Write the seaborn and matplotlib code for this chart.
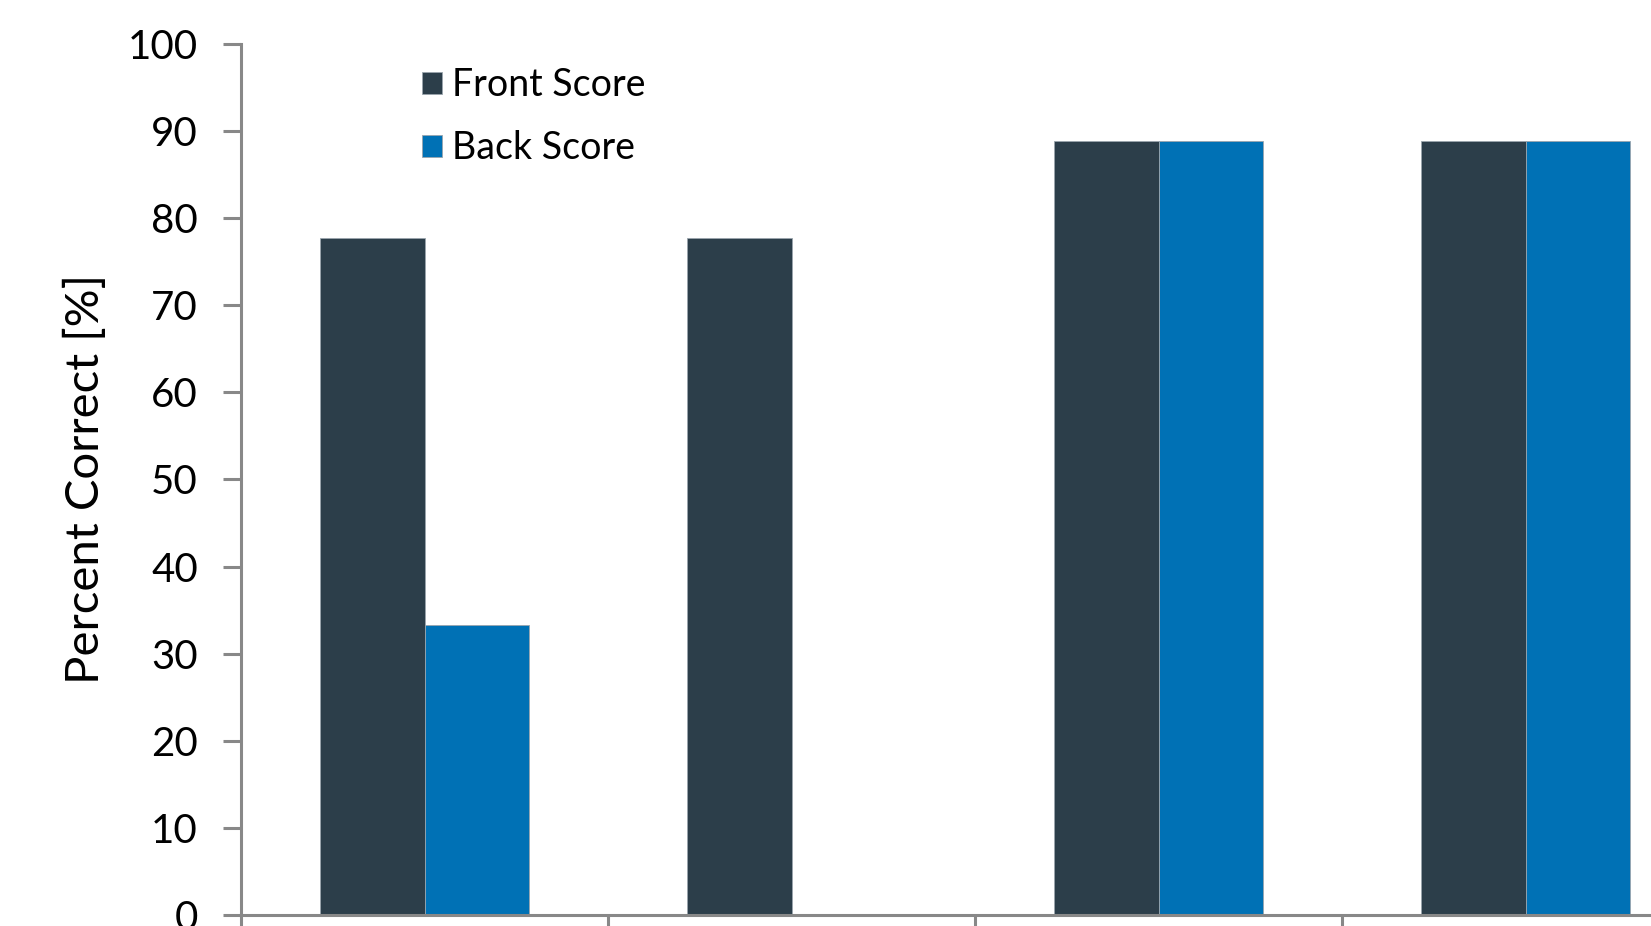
import matplotlib
matplotlib.use("Agg")
import matplotlib.pyplot as plt
import seaborn as sns
import pandas as pd
import numpy as np

categories = ["Condition 1", "Condition 2", "Condition 3", "Condition 4"]
front_score = [77.78, 77.78, 88.89, 88.89]
back_score = [33.33, 0.0, 88.89, 88.89]
series_names = ["Front Score", "Back Score"]
colors = ["#2c3e4a", "#0071b5"]
y_ticks = [0, 10, 20, 30, 40, 50, 60, 70, 80, 90, 100]

df = pd.DataFrame({
    "category": categories * 2,
    "value": front_score + back_score,
    "series": [series_names[0]] * 4 + [series_names[1]] * 4,
})

sns.set_theme(style="white")
plt.rcParams["font.family"] = ["Lato", "DejaVu Sans"]
plt.rcParams["text.color"] = "black"
plt.rcParams["axes.labelcolor"] = "black"
plt.rcParams["ytick.color"] = "black"

W, H = 1651, 926
fig = plt.figure(figsize=(W / 100, H / 100), dpi=100)
left, right_px = 241, 1709
top, bottom = 44, 915
ax = fig.add_axes([left / W, (H - bottom) / H, (right_px - left) / W, (bottom - top) / H])

sns.barplot(data=df, x="category", y="value", hue="series", order=categories,
            hue_order=series_names, palette=colors, width=0.57, ax=ax,
            edgecolor="#9aa5ad", linewidth=0.6, saturation=1, legend=True)

ax.set_ylim(0, 100)
ax.set_xlim(-0.5, 3.5)
ax.set_yticks(y_ticks)
ax.set_yticklabels([str(t) for t in y_ticks], fontsize=29, color="black")
ax.set_xticks([-0.5, 0.5, 1.5, 2.5, 3.5])
ax.set_xticklabels([""] * 5)
ax.set_xlabel("")
ax.set_ylabel("Percent Correct [%]", fontsize=34, color="black", labelpad=15)

for s in ["top", "right"]:
    ax.spines[s].set_visible(False)
for s in ["left", "bottom"]:
    ax.spines[s].set_color("#888888")
    ax.spines[s].set_linewidth(2.2)
ax.tick_params(axis="y", length=13, width=2.2, color="#888888", labelcolor="black", pad=18, left=True)
ax.tick_params(axis="x", length=13, width=2.2, color="#888888", bottom=True, direction="out")

leg = ax.legend(loc="upper left", bbox_to_anchor=(0.1, 1.012), frameon=False,
                prop={"size": 27}, handlelength=0.55, handleheight=0.55,
                handletextpad=0.25, labelspacing=0.72)
for t in leg.get_texts():
    t.set_color("black")

fig.savefig("out.png", dpi=100)
